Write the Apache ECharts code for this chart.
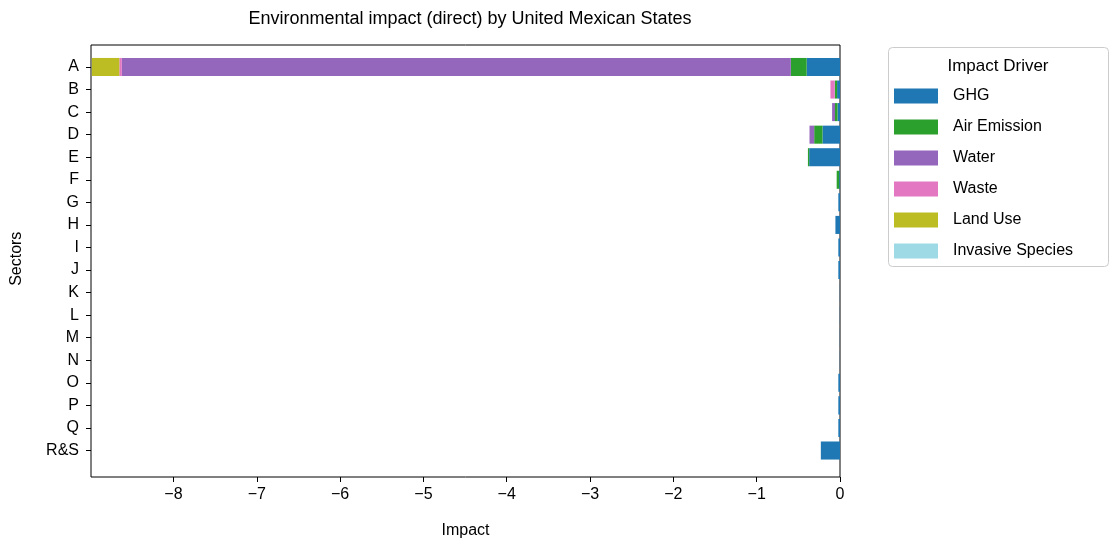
<!DOCTYPE html>
<html>
<head>
<meta charset="utf-8">
<script src="https://cdn.jsdelivr.net/npm/echarts@6/dist/echarts.min.js"></script>
<style>
  html, body { margin: 0; padding: 0; background: #fff; }
  #chart { width: 1110px; height: 544px; }
</style>
</head>
<body>
<div id="chart"></div>
<script>
// Sectors, top to bottom
const sectors = ['A', 'B', 'C', 'D', 'E', 'F', 'G', 'H', 'I', 'J', 'K', 'L', 'M', 'N', 'O', 'P', 'Q', 'R&S'];

// Direct impact per driver and sector
const ghg          = [-0.40, -0.035, -0.03, -0.21, -0.37, -0.01, -0.02, -0.055, -0.02, -0.02, -0.002, -0.002, -0.002, -0.002, -0.02, -0.02, -0.02, -0.23];
const airEmission  = [-0.19, -0.025, -0.03, -0.10, -0.015, -0.03, 0, 0, 0, 0, 0, 0, 0, 0, 0, 0, 0, 0];
const water        = [-8.03, -0.005, -0.035, -0.056, 0, 0, 0, 0, 0, 0, 0, 0, 0, 0, 0, 0, 0, 0];
const waste        = [-0.03, -0.05, 0, 0, 0, 0, 0, 0, 0, 0, 0, 0, 0, 0, 0, 0, 0, 0];
const landUse      = [-0.33, 0, 0, 0, 0, 0, 0, 0, 0, 0, 0, 0, 0, 0, 0, 0, 0, 0];
const invasive     = [0, 0, 0, 0, 0, 0, 0, 0, 0, 0, 0, 0, 0, 0, 0, 0, 0, 0];

const xTicks = [-8, -7, -6, -5, -4, -3, -2, -1, 0];

const drivers = [
  { name: 'GHG', data: ghg, color: '#1f77b4' },
  { name: 'Air Emission', data: airEmission, color: '#2ca02c' },
  { name: 'Water', data: water, color: '#9467bd' },
  { name: 'Waste', data: waste, color: '#e377c2' },
  { name: 'Land Use', data: landUse, color: '#bcbd22' },
  { name: 'Invasive Species', data: invasive, color: '#9edae5' }
];

const FONT = '"Liberation Sans", Arial, sans-serif';
const minus = v => (v < 0 ? '\u2212' + Math.abs(v) : String(v));

const chart = echarts.init(document.getElementById('chart'), null, { renderer: 'canvas' });

chart.setOption({
  animation: false,
  backgroundColor: '#fff',
  textStyle: { fontFamily: FONT },
  title: {
    text: 'Environmental impact (direct) by United Mexican States',
    left: 465,
    top: 5,
    textAlign: 'center',
    textStyle: { fontFamily: FONT, fontSize: 18, fontWeight: 'normal', color: '#000' }
  },
  grid: [
    // bars: one band per sector
    { left: 91, right: 270, top: 55.7, bottom: 82.2 },
    // frame and x axis
    { left: 91, right: 270, top: 45, bottom: 64, show: true, borderColor: '#000', borderWidth: 1, backgroundColor: 'transparent' }
  ],
  xAxis: [
    { gridIndex: 0, type: 'value', min: -8.99, max: 0, show: false },
    {
      gridIndex: 1, type: 'value', min: -8.99, max: 0,
      axisLine: { show: false, onZero: false },
      splitLine: { show: false },
      axisTick: { show: true, length: 5, lineStyle: { color: '#000' }, customValues: xTicks },
      axisLabel: { show: true, customValues: xTicks, formatter: minus, fontSize: 16, color: '#000', margin: 10, fontFamily: FONT },
      name: 'Impact', nameLocation: 'middle', nameGap: 46,
      nameTextStyle: { fontSize: 16, color: '#000', fontFamily: FONT }
    }
  ],
  yAxis: [
    {
      gridIndex: 0, type: 'category', data: sectors, inverse: true,
      axisLine: { show: false, onZero: false },
      splitLine: { show: false },
      axisTick: { show: true, alignWithLabel: true, length: 5, lineStyle: { color: '#000' } },
      axisLabel: { fontSize: 16, color: '#000', margin: 12, fontFamily: FONT },
      name: 'Sectors', nameLocation: 'middle', nameRotate: 90, nameGap: 66,
      nameTextStyle: { fontSize: 16, color: '#000', fontFamily: FONT }
    },
    { gridIndex: 1, type: 'value', min: 0, max: 1, show: false }
  ],
  legend: {
    orient: 'vertical',
    left: 894,
    top: 88,
    padding: 0,
    itemWidth: 44,
    itemHeight: 15,
    itemGap: 15,
    icon: 'rect',
    data: drivers.map(d => d.name),
    textStyle: { fontSize: 16, color: '#000', fontFamily: FONT, padding: [0, 0, 0, 10] }
  },
  graphic: [
    {
      type: 'rect', left: 888, top: 47, z: -1,
      shape: { width: 220, height: 219, r: 4 },
      style: { fill: '#fff', stroke: '#cccccc', lineWidth: 1 }
    },
    {
      type: 'text', x: 998, y: 58,
      style: { text: 'Impact Driver', fill: '#000', font: '17px ' + FONT, align: 'center', textAlign: 'center' }
    }
  ],
  series: drivers.map(d => ({
    name: d.name,
    type: 'bar',
    stack: 'impact',
    xAxisIndex: 0,
    yAxisIndex: 0,
    barWidth: '80%',
    itemStyle: { color: d.color },
    // zero entries are left empty so they draw no sliver
    data: d.data.map(v => (v === 0 ? '-' : v))
  }))
});
</script>
</body>
</html>
